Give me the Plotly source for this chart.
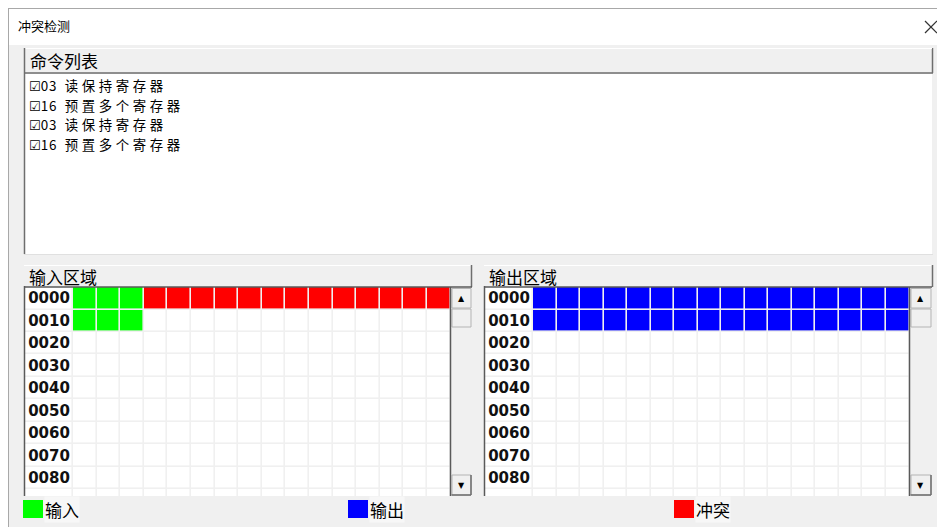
import plotly.graph_objects as go

W, H = 937, 527

# ---------------- data ----------------
title_text = "冲突检测"
list_header = "命令列表"
command_codes = ["03", "16", "03", "16"]
command_names = ["读保持寄存器", "预置多个寄存器", "读保持寄存器", "预置多个寄存器"]
command_checked = [True, True, True, True]

input_header = "输入区域"
output_header = "输出区域"
row_labels = ["0000", "0010", "0020", "0030", "0040", "0050", "0060", "0070", "0080", "0090"]
col_count = 16

# cell states: 0 = empty, 1 = input, 2 = conflict, 3 = output
input_row_0000 = [1, 1, 1, 2, 2, 2, 2, 2, 2, 2, 2, 2, 2, 2, 2, 2]
input_row_0010 = [1, 1, 1, 0, 0, 0, 0, 0, 0, 0, 0, 0, 0, 0, 0, 0]
output_row_0000 = [3, 3, 3, 3, 3, 3, 3, 3, 3, 3, 3, 3, 3, 3, 3, 3]
output_row_0010 = [3, 3, 3, 3, 3, 3, 3, 3, 3, 3, 3, 3, 3, 3, 3, 3]

legend_labels = ["输入", "输出", "冲突"]
legend_states = [1, 3, 2]
state_colors = ["#ffffff", "#00ff00", "#ff0000", "#0000ff"]

# ---------------- helpers ----------------
FONT_CJK = "Noto Sans CJK SC"


def px(x):
    return x / W


def py(y):
    return 1 - y / H


shapes = []
annotations = []


def rect(x0, y0, x1, y1, fill, line=None, lw=1):
    shapes.append(dict(type="rect", xref="paper", yref="paper",
                       x0=px(x0), x1=px(x1), y0=py(y1), y1=py(y0),
                       fillcolor=fill,
                       line=dict(color=line or fill, width=lw if line else 0),
                       layer="below"))


def hline(x0, x1, y, color, lw=1, layer="above"):
    shapes.append(dict(type="line", xref="paper", yref="paper",
                       x0=px(x0), x1=px(x1), y0=py(y), y1=py(y),
                       line=dict(color=color, width=lw), layer=layer))


def vline(x, y0, y1, color, lw=1, layer="above"):
    shapes.append(dict(type="line", xref="paper", yref="paper",
                       x0=px(x), x1=px(x), y0=py(y0), y1=py(y1),
                       line=dict(color=color, width=lw), layer=layer))


def text(x, y, s, size=17, color="#000000", family=FONT_CJK, anchor="left", bg=None):
    a = dict(xref="paper", yref="paper", x=px(x), y=py(y), text=s,
             showarrow=False, xanchor=anchor, yanchor="middle", align="left",
             font=dict(family=family, size=size, color=color))
    if bg:
        a["bgcolor"] = bg
        a["borderpad"] = 0
    annotations.append(a)


# ---------------- window chrome ----------------
rect(8, 8, 937, 45, "#ffffff")
rect(8, 45, 937, 527, "#f0f0f0")
hline(8, 937, 8.5, "#a8a8a8")
vline(8.5, 8, 527, "#a8a8a8")
text(16, 26, title_text, size=13)
shapes.append(dict(type="line", xref="paper", yref="paper", x0=px(925), x1=px(937),
                   y0=py(21), y1=py(33), line=dict(color="#333333", width=1.2)))
shapes.append(dict(type="line", xref="paper", yref="paper", x0=px(925), x1=px(937),
                   y0=py(33), y1=py(21), line=dict(color="#333333", width=1.2)))

# command list header + list box
rect(24, 48, 933, 73, "#f0f0f0")
hline(24, 933, 73, "#6e6e6e", 1.5)
vline(932.5, 48, 73, "#6e6e6e", 1.5)
hline(24, 932, 48.5, "#ffffff")
text(28, 61, list_header, size=17)
rect(25, 74, 932, 254, "#ffffff")
vline(24.5, 48, 254, "#6e6e6e", 1.5)
hline(24, 933, 254.5, "#e0e0e0")

# command lines: one text block, base size 15 gives a 19.5 px line pitch
lines = []
for code, name, chk in zip(command_codes, command_names, command_checked):
    box = "☑" if chk else "☐"
    lines.append('<span style="font-family:DejaVu Sans;font-size:13px">' + box + '</span>'
                 '<span style="font-size:13.4px;letter-spacing:0.8px">' + code + '  </span>'
                 '<span style="font-size:13.4px;letter-spacing:3.6px">' + name + '</span>')
block_center = 85 + 1.5 * 19.5
text(27, block_center, "<br>".join(lines), size=15)

# area headers
for (x0, x1, label) in [(24, 472, input_header), (484, 933, output_header)]:
    rect(x0, 265, x1, 287, "#f0f0f0")
    hline(x0, x1, 265.5, "#ffffff")
    vline(x1 - 0.5, 265, 287, "#6e6e6e", 1.5)
    text(x0 + 3, 276, label, size=17)

# grid frames and scrollbars
for (gl, gr, sr) in [(25, 450.5, 472), (485, 909.5, 932)]:
    vline(gl - 0.5, 286, 496, "#5a5a5a", 1.5)
    hline(gl - 1, sr, 287, "#5a5a5a", 1.5)
    vline(gr, 287, 496, "#5a5a5a", 1.5)
    rect(gr + 1, 288, sr, 496, "#f0f0f0")
    rect(gr + 1.5, 288.5, sr - 1, 308, "#f0f0f0", "#b4b4b4")
    rect(gr + 1.5, 309, sr - 1, 327, "#f0f0f0", "#b4b4b4")
    rect(gr + 1.5, 475, sr - 1, 495, "#f0f0f0", "#b4b4b4")
    hline(gr + 1, sr - 1, 495, "#6e6e6e", 1.5)
    vline(sr - 1, 475, 495, "#6e6e6e", 1.5)
    cx = (gr + 1 + sr - 1) / 2
    text(cx, 298, "▲", size=8, family="DejaVu Sans", anchor="center")
    text(cx, 485, "▼", size=8, family="DejaVu Sans", anchor="center")

# legend
legend_x = [23, 348, 674]
for lx, lab, st in zip(legend_x, legend_labels, legend_states):
    rect(lx, 500, lx + 20, 518, state_colors[st])
    text(lx + 21, 509, lab, size=17, bg="#f7f7f7")

# ---------------- grids (heatmaps) ----------------
colorscale = [[0, state_colors[0]], [1 / 6, state_colors[0]],
              [1 / 6, state_colors[1]], [0.5, state_colors[1]],
              [0.5, state_colors[2]], [5 / 6, state_colors[2]],
              [5 / 6, state_colors[3]], [1, state_colors[3]]]


def build(rows_given):
    z, t = [], []
    for r, lab in enumerate(row_labels):
        states = rows_given[r] if r < len(rows_given) else [0] * col_count
        z.append([0] + list(states))
        t.append([lab] + [""] * col_count)
    return z, t


z_in, t_in = build([input_row_0000, input_row_0010])
z_out, t_out = build([output_row_0000, output_row_0010])

label_w = 2.04
x_edges = [-label_w] + list(range(col_count + 1))
y_idx = list(range(len(row_labels)))

fig = go.Figure()
for z, t, xa, ya in [(z_in, t_in, "x", "y"), (z_out, t_out, "x2", "y2")]:
    fig.add_trace(go.Heatmap(
        z=z, x=x_edges, y=y_idx, text=t, texttemplate="%{text}",
        textfont=dict(family="DejaVu Sans", size=15, color="#111111", weight="bold"),
        colorscale=colorscale, zmin=0, zmax=3, showscale=False,
        xgap=1.6, ygap=1.6, hoverinfo="skip", xaxis=xa, yaxis=ya))

ydom = [py(496), py(287)]
axis_common = dict(showgrid=False, zeroline=False, showticklabels=False,
                   showline=False, ticks="", fixedrange=True)
fig.update_layout(
    width=W, height=H, margin=dict(l=0, r=0, t=0, b=0),
    paper_bgcolor="#ffffff", plot_bgcolor="#c4c4c4",
    xaxis=dict(domain=[px(25), px(450.5)], range=[-label_w, col_count], **axis_common),
    yaxis=dict(domain=ydom, range=[8.79, -0.5], **axis_common),
    xaxis2=dict(domain=[px(485), px(909.5)], range=[-label_w, col_count], anchor="y2", **axis_common),
    yaxis2=dict(domain=ydom, range=[8.79, -0.5], anchor="x2", **axis_common),
    shapes=shapes, annotations=annotations, showlegend=False,
)

fig.write_html("out.html", config={"displayModeBar": False},
               post_script="document.body.style.margin='0';document.body.style.overflow='hidden';")
